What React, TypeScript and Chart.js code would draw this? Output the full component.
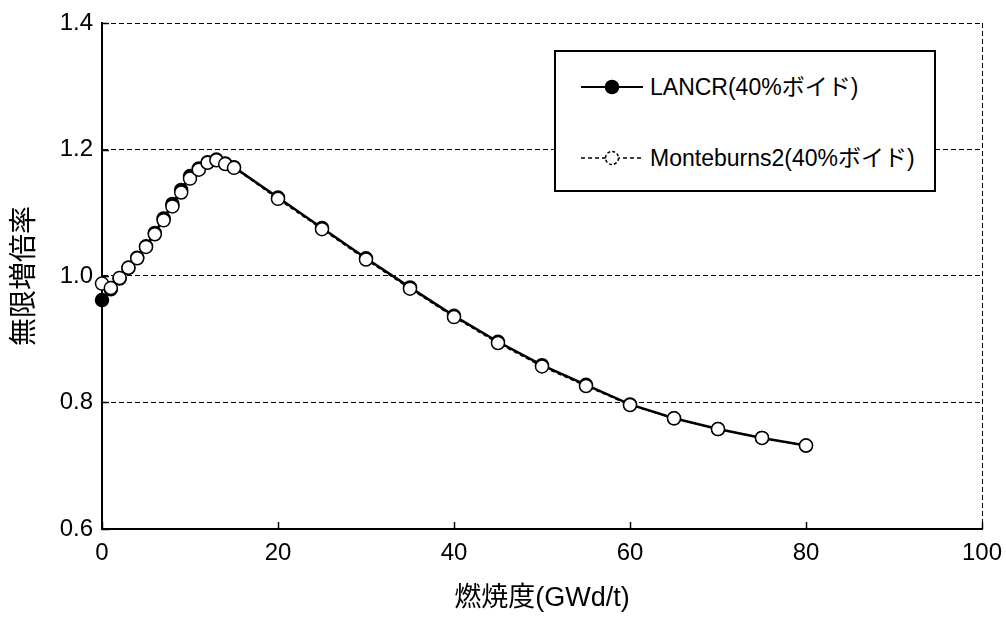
import React, { useEffect, useRef } from "react";
import { Chart, registerables } from "chart.js";

Chart.register(...registerables);

const burnup = [0, 1, 2, 3, 4, 5, 6, 7, 8, 9, 10, 11, 12, 13, 14, 15, 20, 25, 30, 35, 40, 45, 50, 55, 60, 65, 70, 75, 80];
const lancr = [0.962, 0.979, 0.996, 1.013, 1.029, 1.047, 1.068, 1.091, 1.114, 1.136, 1.158, 1.170, 1.180, 1.184, 1.178, 1.172, 1.124, 1.076, 1.028, 0.982, 0.937, 0.896, 0.859, 0.828, 0.797, 0.775, 0.758, 0.744, 0.732];
const monteburns = [0.988, 0.981, 0.997, 1.013, 1.028, 1.046, 1.066, 1.088, 1.110, 1.132, 1.154, 1.168, 1.179, 1.183, 1.177, 1.171, 1.122, 1.074, 1.026, 0.980, 0.935, 0.894, 0.857, 0.826, 0.796, 0.775, 0.758, 0.744, 0.732];
const seriesLabels = ["LANCR(40%ボイド)", "Monteburns2(40%ボイド)"];
const xTitle = "燃焼度(GWd/t)";
const yTitle = "無限増倍率";
const xTicks = [0, 20, 40, 60, 80, 100];
const yTicks = [0.6, 0.8, 1.0, 1.2, 1.4];

const FONT = "'Liberation Sans', 'Noto Sans CJK JP', sans-serif";

const innerTicks = {
  id: "innerTicks",
  beforeDatasetsDraw(chart: any) {
    const { ctx, chartArea, scales } = chart;
    ctx.save();
    ctx.strokeStyle = "#000";
    ctx.lineWidth = 1.5;
    ctx.setLineDash([]);
    for (const v of xTicks) {
      const px = Math.round(scales.x.getPixelForValue(v)) + 0.5;
      ctx.beginPath();
      ctx.moveTo(px, chartArea.bottom);
      ctx.lineTo(px, chartArea.bottom - 7);
      ctx.stroke();
    }
    for (const v of yTicks) {
      const py = Math.round(scales.y.getPixelForValue(v)) + 0.5;
      ctx.beginPath();
      ctx.moveTo(chartArea.left, py);
      ctx.lineTo(chartArea.left + 7, py);
      ctx.stroke();
    }
    ctx.restore();
  },
};

function LegendSample({ filled }: { filled: boolean }) {
  return (
    <svg width={64} height={20} style={{ display: "block" }}>
      <line x1={1} y1={10} x2={63} y2={10} stroke="#000" strokeWidth={filled ? 2 : 1.5} strokeDasharray={filled ? undefined : "4 3"} />
      <circle cx={32} cy={10} r={6.5} fill={filled ? "#000" : "#fff"} stroke="#000" strokeWidth={1.5} strokeDasharray={filled ? undefined : "3 2"} />
    </svg>
  );
}

export default function App() {
  const ref = useRef<HTMLCanvasElement>(null);

  useEffect(() => {
    if (!ref.current) return;
    const chart = new Chart(ref.current, {
      type: "line",
      data: {
        datasets: [
          {
            label: seriesLabels[0],
            data: burnup.map((x, i) => ({ x, y: lancr[i] })),
            borderColor: "#000",
            borderWidth: 2.5,
            pointRadius: 6.5,
            pointBackgroundColor: "#000",
            pointBorderColor: "#000",
            pointBorderWidth: 1.5,
            clip: false,
            order: 1,
          },
          {
            label: seriesLabels[1],
            data: burnup.map((x, i) => ({ x, y: monteburns[i] })),
            borderColor: "#000",
            borderWidth: 1.5,
            borderDash: [4, 3],
            pointRadius: 6.5,
            pointBackgroundColor: "#fff",
            pointBorderColor: "#000",
            pointBorderWidth: 1.5,
            clip: false,
            order: 0,
          },
        ],
      },
      options: {
        animation: false,
        responsive: false,
        layout: { padding: { top: 23, right: 24, left: 0, bottom: 0 } },
        plugins: { legend: { display: false }, tooltip: { enabled: false } },
        scales: {
          x: {
            type: "linear",
            min: 0,
            max: 100,
            afterBuildTicks: (s: any) => {
              s.ticks = xTicks.map((v) => ({ value: v }));
            },
            afterFit: (s: any) => {
              s.height = 96;
              s.paddingLeft = 0;
              s.paddingRight = 0;
            },
            ticks: {
              padding: 10,
              color: "#000",
              font: { family: FONT, size: 24 },
              callback: (v: any) => String(v),
            },
            grid: {
              drawTicks: false,
              lineWidth: 1,
              color: (c: any) => (c.tick && c.tick.value === 100 ? "#000" : "rgba(0,0,0,0)"),
            },
            border: { display: true, color: "#000", width: 2, dash: [5, 3] },
            title: {
              display: true,
              text: xTitle,
              color: "#000",
              font: { family: FONT, size: 27 },
              padding: { top: 0, bottom: 10 },
            },
          },
          y: {
            type: "linear",
            min: 0.6,
            max: 1.4,
            afterBuildTicks: (s: any) => {
              s.ticks = yTicks.map((v) => ({ value: v }));
            },
            afterFit: (s: any) => {
              s.width = 102;
              s.paddingTop = 0;
              s.paddingBottom = 0;
            },
            ticks: {
              padding: 9,
              color: "#000",
              font: { family: FONT, size: 24 },
              callback: (v: any) => Number(v).toFixed(1),
            },
            grid: { drawTicks: false, color: "#000", lineWidth: 1 },
            border: { display: true, color: "#000", width: 2, dash: [5, 3] },
            title: {
              display: true,
              text: yTitle,
              color: "#000",
              font: { family: FONT, size: 28 },
              padding: { top: 8, bottom: 0 },
            },
          },
        },
      },
      plugins: [innerTicks],
    } as any);
    return () => chart.destroy();
  }, []);

  const rowStyle: React.CSSProperties = {
    position: "absolute",
    left: 24,
    display: "flex",
    alignItems: "center",
    fontFamily: FONT,
    fontSize: 23,
    color: "#000",
    whiteSpace: "nowrap",
    lineHeight: "26px",
  };

  return (
    <div style={{ position: "fixed", left: 0, top: 0, width: 1006, height: 625, background: "#fff" }}>
      <canvas ref={ref} width={1006} height={625} style={{ display: "block" }} />
      <div
        style={{
          position: "absolute",
          left: 554,
          top: 50,
          width: 378,
          height: 138,
          border: "2px solid #000",
          background: "#fff",
        }}
      >
        <div style={{ ...rowStyle, top: 22 }}>
          <LegendSample filled={true} />
          <span style={{ marginLeft: 6 }}>{seriesLabels[0]}</span>
        </div>
        <div style={{ ...rowStyle, top: 93 }}>
          <LegendSample filled={false} />
          <span style={{ marginLeft: 6 }}>{seriesLabels[1]}</span>
        </div>
      </div>
    </div>
  );
}
